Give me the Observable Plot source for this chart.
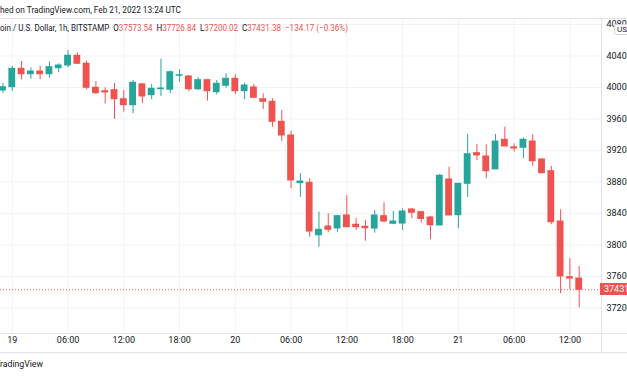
<!DOCTYPE html>
<html><head><meta charset="utf-8">
<script src="https://cdn.jsdelivr.net/npm/d3@7"></script>
<script src="https://cdn.jsdelivr.net/npm/@observablehq/plot@0.6"></script>
<style>
html,body{margin:0;padding:0;background:#fff;}
#root{position:relative;width:627px;height:376px;overflow:hidden;font-family:Roboto,sans-serif;color:#131722;}
#root svg{position:absolute;left:0;top:0;}
.ln{position:absolute;background:#e0e3eb;}
.txt{position:absolute;white-space:nowrap;line-height:12px;}
</style></head>
<body><div id="root"></div>
<script>
// ---- data (hourly candles, BTC/USD Bitstamp, starting Feb 18 2022 23:00 UTC) ----
const startTime = "2022-02-18T23:00:00Z";
const open  = [39962,40004,40237,40169,40203,40169,40245,40279,40403,40301,39996,39953,39966,39851,39775,40040,39902,39978,39971,40149,40140,39978,40093,39940,40022,40110,39953,40000,39851,39818,39564,39390,38785,38790,38124,38235,38210,38375,38257,38231,38208,38366,38269,38272,38451,38417,38349,38248,38832,38378,38777,39166,39124,38960,39336,39240,39234,39314,39086,38937,38298,37591,37573.54];
const high  = [40051,40267,40330,40250,40267,40326,40301,40470,40444,40334,40076,39996,40051,39962,40089,40047,40038,40359,40207,40225,40152,40123,40098,40089,40174,40161,40055,40038,39920,39857,39708,39445,38904,38841,38417,38396,38375,38629,38333,38311,38438,38536,38425,38460,38460,38425,38366,38895,38988,38782,39403,39276,39272,39403,39496,39285,39361,39399,39095,38997,38447,37825,37726.84];
const low   = [39924,39953,40098,40105,40098,40118,40187,40250,40296,39971,39911,39793,39594,39686,39666,39793,39844,39886,39920,40067,39945,39962,39826,39907,39991,39907,39844,39857,39721,39496,39318,38714,38607,38099,37972,38155,38163,38222,38184,38048,38150,38282,38257,38184,38333,38277,38066,38245,38372,38206,38603,39073,38841,38955,39248,39178,39095,38997,38904,38257,37380,37430,37200.02];
const close = [40004,40237,40169,40203,40169,40258,40279,40403,40301,39996,39928,39937,39851,39775,40060,39886,39983,39987,40194,40156,39978,40093,39953,40047,40110,39953,40025,39869,39818,39564,39390,38819,38806,38171,38193,38193,38366,38226,38226,38213,38375,38298,38298,38425,38409,38330,38251,38879,38375,38777,39153,39137,38937,39314,39251,39225,39336,39064,38912,38290,37600,37573.54,37431.38];
const yTicks = [37200,37600,38000,38400,38800,39200,39600,40000,40400,40800];
const xTickTimes = ["2022-02-19T00:00Z","2022-02-19T06:00Z","2022-02-19T12:00Z","2022-02-19T18:00Z","2022-02-20T00:00Z","2022-02-20T06:00Z","2022-02-20T12:00Z","2022-02-20T18:00Z","2022-02-21T00:00Z","2022-02-21T06:00Z","2022-02-21T12:00Z"];
const xTickLabels = ["19","06:00","12:00","18:00","20","06:00","12:00","18:00","21","06:00","12:00"];
const boldLabels = ["21"];
const headerLine1 = "Published on TradingView.com, Feb 21, 2022 13:24 UTC";
const symbolText = "Bitcoin / U.S. Dollar, 1h, BITSTAMP";
const ohlcLabels = ["O","H","L","C"];
const ohlcValues = ["37573.54","37726.84","37200.02","37431.38"];
const changeText = "\u2212134.17 (\u22120.36%)";
const footerText = "TradingView";
const currency = "USD";

const GREEN = "#26a69a", RED = "#ef5350", GRID = "#f0f3fa";
const t0 = new Date(startTime).getTime();
const candles = open.map((o, k) => ({
  t: new Date(t0 + k * 3600e3), open: o, high: high[k], low: low[k], close: close[k]
}));
const col = d => d.close >= d.open ? GREEN : RED;
const last = candles[candles.length - 1];
const HALF = 22 * 60e3;

const chart = Plot.plot({
  width: 627, height: 376,
  marginTop: 18, marginBottom: 43, marginLeft: 0, marginRight: 26,
  style: {fontFamily: "Roboto, sans-serif", fontSize: "9px", color: "#131722", background: "transparent"},
  x: {type: "utc", domain: [new Date(Date.UTC(2022,1,18,22,44)), new Date(Date.UTC(2022,1,21,15,24))], axis: null},
  y: {domain: [36876, 40876], axis: null},
  color: {type: "identity"},
  marks: [
    Plot.ruleX(xTickTimes, {x: d => new Date(d), stroke: GRID}),
    Plot.ruleY(yTicks, {stroke: GRID}),
    Plot.ruleY([last.close], {stroke: RED, strokeDasharray: "1,2"}),
    Plot.ruleX(candles, {x: "t", y1: "low", y2: "high", stroke: col}),
    Plot.rect(candles, {x1: d => new Date(+d.t - HALF), x2: d => new Date(+d.t + HALF), y1: "open", y2: "close", fill: col, insetTop: -0.5, insetBottom: -0.5}),
    Plot.axisY(yTicks, {anchor: "right", tickSize: 0, tickPadding: 5, tickFormat: d3.format("d"), label: null, fill: "#131722"}),
    Plot.text(xTickTimes, {x: d => new Date(d), text: (d, i) => xTickLabels[i], frameAnchor: "bottom", dy: 9, fill: "#131722",
      fontWeight: (d, i) => boldLabels.includes(xTickLabels[i]) ? "bold" : "normal"})
  ]
});
const root = document.getElementById("root");
root.appendChild(chart);

function line(x, y, w, h) {
  const d = document.createElement("div"); d.className = "ln";
  Object.assign(d.style, {left: x + "px", top: y + "px", width: w + "px", height: h + "px"});
  root.appendChild(d);
}
line(0, 18, 627, 1); line(0, 333, 627, 1); line(0, 352, 627, 1); line(601, 18, 1, 334);

// text whose left part is cut by the picture edge: fit visible part to target width
function fitCut(el, prefixEl, target) {
  root.appendChild(el);
  el.style.left = "0px";
  el.style.transformOrigin = "0 0";
  const W = el.getBoundingClientRect().width;
  const P = prefixEl.getBoundingClientRect().width;
  const s = target / (W - P);
  el.style.transform = `translateX(${-P * s}px) scaleX(${s})`;
}
function cutText(parts, fs, top) {
  const d = document.createElement("div"); d.className = "txt";
  d.style.fontSize = fs + "px"; d.style.top = top + "px";
  let pre = null;
  parts.forEach((p, i) => {
    const s = document.createElement("span");
    s.textContent = p.text; if (p.color) s.style.color = p.color;
    d.appendChild(s); if (i === 0) pre = s;
  });
  return [d, pre];
}
// header line 1
{
  const [d, pre] = cutText([{text: headerLine1.slice(0, 6)}, {text: headerLine1.slice(6)}], 9.5, 4);
  fitCut(d, pre, 181);
}
// header line 2
{
  const parts = [{text: symbolText.slice(0, 4)}, {text: symbolText.slice(4) + "\u00a0\u00a0"}];
  ohlcLabels.forEach((l, i) => { parts.push({text: l}); parts.push({text: ohlcValues[i] + "\u00a0\u00a0", color: RED}); });
  parts.push({text: changeText, color: RED});
  const [d, pre] = cutText(parts, 9.5, 22);
  fitCut(d, pre, 348);
}
// footer
{
  const [d, pre] = cutText([{text: footerText.slice(0, 1)}, {text: footerText.slice(1)}], 9.5, 358);
  fitCut(d, pre, 43);
}
// last price label
{
  const y = chart.scale("y").apply(last.close);
  const d = document.createElement("div"); d.className = "txt";
  Object.assign(d.style, {left: "600px", top: (y - 6) + "px", width: "30px", height: "12px", background: RED, color: "#fff", fontSize: "9px", paddingLeft: "4px"});
  d.textContent = d3.format("d")(Math.floor(last.close));
  root.appendChild(d);
}
// currency box
{
  const d = document.createElement("div"); d.className = "txt";
  Object.assign(d.style, {left: "614px", top: "24px", height: "9px", lineHeight: "9px", padding: "0 2px", background: "#fff", border: "1px solid #d1d4dc", borderRadius: "2px", fontSize: "8px"});
  d.textContent = currency;
  root.appendChild(d);
}
</script></body></html>
